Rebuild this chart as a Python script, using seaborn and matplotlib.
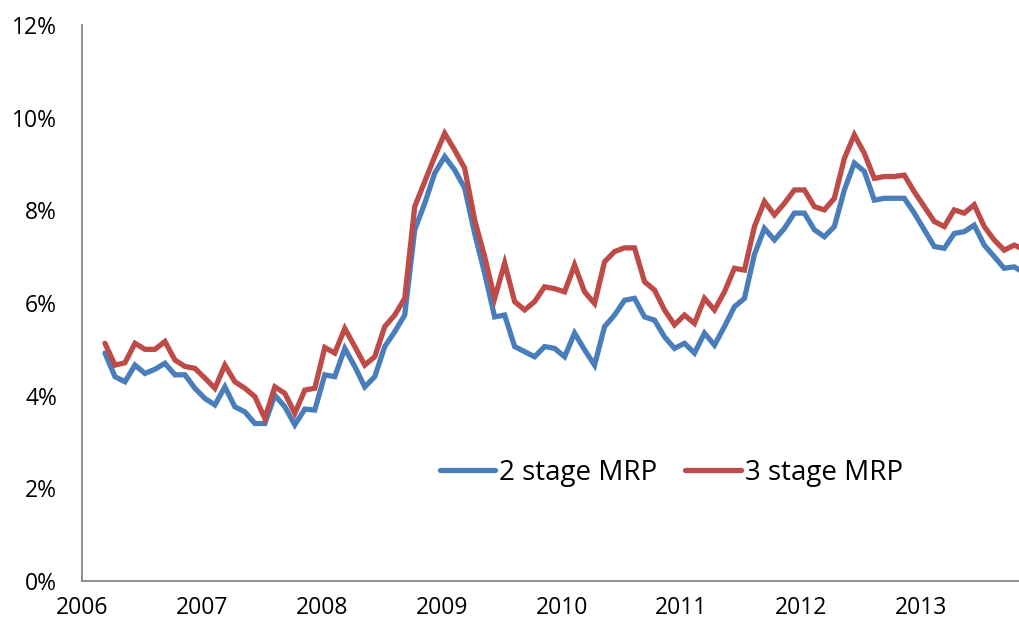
#! /usr/bin/env python3
# 2 stage vs 3 stage market risk premium, monthly 2006-2013
import numpy as np
import pandas as pd
import matplotlib
matplotlib.use('Agg')
import matplotlib.pyplot as plt
import matplotlib.ticker as ticker
import seaborn as sns

# monthly observations (percent), first one in March 2006
mrp_2stage = [4.92, 4.41, 4.30, 4.66, 4.48, 4.57, 4.70, 4.45, 4.45, 4.16,
              3.94, 3.80, 4.19, 3.76, 3.65, 3.40, 3.40, 4.01, 3.76, 3.37,
              3.71, 3.69, 4.45, 4.41, 5.02, 4.63, 4.19, 4.41, 5.06, 5.38,
              5.74, 7.58, 8.15, 8.80, 9.16, 8.87, 8.48, 7.50, 6.64, 5.70,
              5.74, 5.06, 4.95, 4.84, 5.06, 5.02, 4.84, 5.35, 4.99, 4.66,
              5.49, 5.74, 6.06, 6.10, 5.70, 5.63, 5.27, 5.02, 5.13, 4.92,
              5.35, 5.09, 5.49, 5.92, 6.10, 7.05, 7.61, 7.36, 7.61, 7.94,
              7.94, 7.58, 7.43, 7.65, 8.44, 9.02, 8.84, 8.22, 8.26, 8.26,
              8.26, 7.94, 7.58, 7.22, 7.18, 7.50, 7.54, 7.68, 7.25, 7.00,
              6.75, 6.78, 6.65]
mrp_3stage = [5.13, 4.66, 4.71, 5.13, 5.00, 5.00, 5.17, 4.77, 4.63, 4.59,
              4.38, 4.16, 4.66, 4.30, 4.16, 3.98, 3.51, 4.19, 4.05, 3.62,
              4.12, 4.16, 5.04, 4.92, 5.45, 5.06, 4.66, 4.84, 5.49, 5.74,
              6.10, 8.08, 8.62, 9.16, 9.66, 9.30, 8.91, 7.79, 7.00, 6.10,
              6.86, 6.03, 5.85, 6.03, 6.35, 6.31, 6.24, 6.82, 6.24, 5.99,
              6.89, 7.11, 7.19, 7.19, 6.46, 6.28, 5.85, 5.53, 5.74, 5.56,
              6.10, 5.85, 6.24, 6.75, 6.71, 7.65, 8.19, 7.90, 8.15, 8.44,
              8.44, 8.08, 8.01, 8.26, 9.12, 9.63, 9.23, 8.69, 8.73, 8.73,
              8.76, 8.40, 8.08, 7.76, 7.65, 8.01, 7.94, 8.12, 7.65, 7.36,
              7.14, 7.25, 7.15]
series_names = ['2 stage MRP', '3 stage MRP']
year_ticks = [2006, 2007, 2008, 2009, 2010, 2011, 2012, 2013]
pct_ticks = [0, 2, 4, 6, 8, 10, 12]

# decimal-year dates for each month
months = np.arange(len(mrp_2stage))
dates = 2006 + (months + 2.3) / 12.0

df = pd.DataFrame({
    'date': np.concatenate([dates, dates]),
    'mrp': mrp_2stage + mrp_3stage,
    'series': [series_names[0]] * len(dates) + [series_names[1]] * len(dates),
})

sns.set_style('white')
plt.rcParams['font.family'] = ['Open Sans', 'DejaVu Sans']
plt.rcParams['text.color'] = 'black'
plt.rcParams['xtick.labelcolor'] = 'black'
plt.rcParams['ytick.labelcolor'] = 'black'

fig = plt.figure(figsize=(10.19, 6.27), dpi=100)
ax = fig.add_axes([82 / 1019, 46 / 627, 937 / 1019, 556 / 627])

sns.lineplot(data=df, x='date', y='mrp', hue='series', ax=ax,
             palette=['#4A7EBB', '#BE4B48'], linewidth=3.8,
             solid_joinstyle='miter')

ax.set_xlim(2006, 2013.815)
ax.set_ylim(0, 12)
ax.set_xticks(year_ticks)
ax.set_xticklabels([str(y) for y in year_ticks])
ax.set_yticks(pct_ticks)
ax.yaxis.set_major_formatter(ticker.FuncFormatter(lambda v, p: '%d%%' % v))
ax.set_xlabel('')
ax.set_ylabel('')

# axis styling (excel look)
for side in ['top', 'right']:
    ax.spines[side].set_visible(False)
for side in ['left', 'bottom']:
    ax.spines[side].set_color('#868686')
    ax.spines[side].set_linewidth(1.3)
ax.tick_params(axis='x', direction='out', length=5, width=1.2, color='#868686',
               labelsize=16.5, labelcolor='black', pad=6)
ax.tick_params(axis='y', direction='out', length=4, width=1.2, color='#868686',
               labelsize=16.5, labelcolor='black', pad=14)

leg = ax.legend(loc='center', bbox_to_anchor=(0.629, 0.194), ncol=2,
                frameon=False, fontsize=20, handlelength=2.0,
                handletextpad=0.15, columnspacing=1.0)
for text in leg.get_texts():
    text.set_color('black')
for line in leg.get_lines():
    line.set_linewidth(3.8)

fig.savefig('out.png', dpi=100)
